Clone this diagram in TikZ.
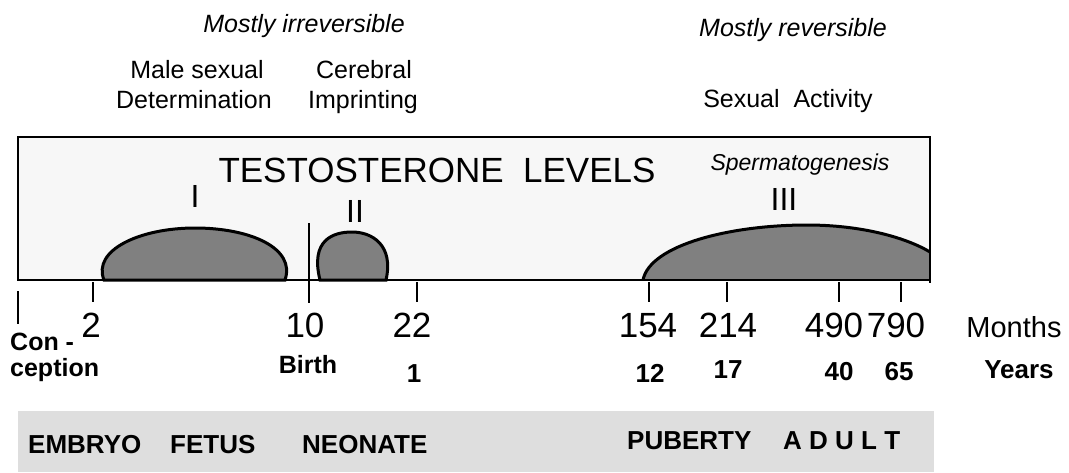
\documentclass[tikz,border=0pt]{standalone}
\usepackage{fontspec}
\setmainfont{Liberation Sans}
\usetikzlibrary{positioning}
\definecolor{TsPanel}{HTML}{F7F7F7}
\definecolor{TsBlob}{HTML}{808080}
\definecolor{TsBand}{HTML}{DEDEDE}
\tikzset{
  tslabel/.style={font=\fontsize{25}{30}\selectfont, inner sep=0pt, anchor=base},
  tsnote/.style={tslabel, font=\fontsize{25}{30}\selectfont\itshape},
  tstitle/.style={tslabel, font=\fontsize{35}{40}\selectfont},
  tsroman/.style={tslabel, font=\fontsize{32}{36}\selectfont},
  tsmonth/.style={tslabel, font=\fontsize{35}{40}\selectfont},
  tsyear/.style={tslabel, font=\fontsize{26}{30}\selectfont\bfseries},
  tsstage/.style={tslabel, anchor=base west, font=\fontsize{26}{30}\selectfont\bfseries},
  tspanel/.style={draw=black, fill=TsPanel, line width=2pt},
  tsblob/.style={draw=black, fill=TsBlob, line width=3pt},
  tstick/.style={draw=black, line width=2pt}
}
\begin{document}
\begin{tikzpicture}[x=1pt, y=-1pt]
\useasboundingbox[fill=white] (0,0) rectangle (1069,472);
% upper notes
\node[tsnote] (irrev) at (304,32) {Mostly irreversible};
\node[tsnote] (rev) at (793,36) {Mostly reversible};
\node[tslabel] (male) at (197,78) {Male sexual};
\node[tslabel] (determ) at (194,108) {Determination};
\node[tslabel] (cereb) at (364,78) {Cerebral};
\node[tslabel] (imprint) at (363,108) {Imprinting};
\node[tslabel] (sexact) at (788,107) {Sexual\ \ Activity};
% level panel
\fill[TsPanel] (18,137) rectangle (930,280);
\draw[tsblob] (104,280) .. controls (92,250) and (140,228) .. (195,228) .. controls (250,228) and (296,248) .. (285,280) -- cycle;
\draw[tsblob] (320,280) .. controls (310,240) and (333,232) .. (352,232) .. controls (372,232) and (394,245) .. (386,280) -- cycle;
\fill[TsBlob] (643,280) .. controls (650,245) and (730,225) .. (807,225) .. controls (860,225) and (905,237) .. (930,252) -- (930,280) -- cycle;
\draw[black, line width=3pt] (643,280) .. controls (650,245) and (730,225) .. (807,225) .. controls (860,225) and (905,237) .. (930,252);
\draw[tspanel, fill=none] (18,137) rectangle (930,280);
\draw[tstick] (930,280) -- (930,283);
\node[tstitle] (title) at (437,182) {TESTOSTERONE\ \ LEVELS};
\node[tsnote, font=\fontsize{23}{28}\selectfont\itshape] (sperm) at (800,170) {Spermatogenesis};
\node[tsroman] (phI) at (195,207) {I};
\node[tsroman] (phII) at (355,222) {II};
\node[tsroman] (phIII) at (784,210) {III};
% time axis
\draw[black, line width=1.5pt] (309,223) -- (309,303);
\draw[tstick] (18,291) -- (18,324);
\foreach \x in {93,417,649,727,839,901}
  \draw[tstick] (\x,282) -- (\x,302);
\node[tsmonth] (m2) at (91,337) {2};
\node[tsmonth] (m10) at (305,337) {10};
\node[tsmonth] (m22) at (412,337) {22};
\node[tsmonth] (m154) at (648,337) {154};
\node[tsmonth] (m214) at (728,337) {214};
\node[tsmonth] (m490) at (834,337) {490};
\node[tsmonth] (m790) at (896,337) {790};
\node[tslabel, font=\fontsize{29}{34}\selectfont] (months) at (1014,337) {Months};
\node[tsstage, font=\fontsize{25}{30}\selectfont\bfseries] (con) at (10,350) {Con -};
\node[tsstage, font=\fontsize{25}{30}\selectfont\bfseries] (ception) at (10,376) {ception};
\node[tsyear, font=\fontsize{25}{30}\selectfont\bfseries] (birth) at (308,373) {Birth};
\node[tsyear] (y1) at (414,382) {1};
\node[tsyear] (y12) at (650,382) {12};
\node[tsyear] (y17) at (728,378) {17};
\node[tsyear] (y40) at (839,380) {40};
\node[tsyear] (y65) at (899,380) {65};
\node[tsyear] (years) at (1019,378) {Years};
% stage band
\fill[TsBand] (18,411) rectangle (934,472);
\node[tsstage] (embryo) at (28,453) {EMBRYO};
\node[tsstage] (fetus) at (170,453) {FETUS};
\node[tsstage] (neonate) at (302,453) {NEONATE};
\node[tsstage] (puberty) at (627,449) {PUBERTY};
\node[tsstage] (adult) at (783,449) {A D U L T};
\end{tikzpicture}
\end{document}
